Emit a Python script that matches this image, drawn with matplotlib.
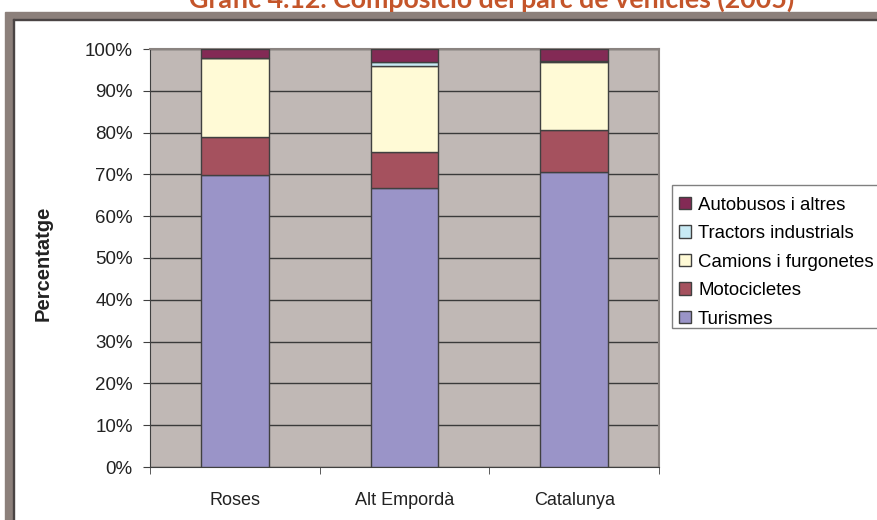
import numpy as np
import matplotlib.pyplot as plt
from matplotlib.patches import Rectangle

# dades (percentatges llegits del gràfic)
llocs = ['Roses', 'Alt Empordà', 'Catalunya']
turismes = [69.9, 66.7, 70.6]
motocicletes = [9.0, 8.7, 10.0]
camions = [18.9, 20.5, 16.2]
tractors = [0.1, 0.9, 0.4]
autobusos = [2.1, 3.2, 2.8]

series = [('Turismes', turismes, '#9A94C8'),
          ('Motocicletes', motocicletes, '#A5515E'),
          ('Camions i furgonetes', camions, '#FFFAD6'),
          ('Tractors industrials', tractors, '#C8EAF4'),
          ('Autobusos i altres', autobusos, '#832A55')]

W, H = 878, 520
plt.rcParams['font.family'] = ['Liberation Sans', 'DejaVu Sans']
fig = plt.figure(figsize=(W / 100, H / 100), dpi=100)

def fx(x):
    return x / W

def fy(y):
    return 1 - y / H

# marc gris
gris = '#8C807B'
fig.patches.append(Rectangle((fx(5), 0), fx(878) - fx(5), fy(12), transform=fig.transFigure, color=gris, zorder=-3))
fig.patches.append(Rectangle((fx(14), 0), fx(878) - fx(14), fy(20), transform=fig.transFigure, color='white', zorder=-2))
fig.patches.append(Rectangle((fx(13), 0), fx(1), fy(19), transform=fig.transFigure, color='#4A4444', zorder=-1))
fig.patches.append(Rectangle((fx(13), fy(20)), fx(878) - fx(13), 1 / H, transform=fig.transFigure, color='#4A4444', zorder=-1))

fig.text(fx(492), fy(8), 'Gràfic 4.12. Composició del parc de vehicles (2005)',
         ha='center', va='baseline', fontsize=19.3, fontweight='bold',
         color='#C4552A', family=['Lato', 'DejaVu Sans'])

ax = fig.add_axes([fx(150), fy(467), fx(659) - fx(150), fy(49) - fy(467)])
ax.set_zorder(2)
ax.set_facecolor('#C0B8B5')

x = np.arange(len(llocs))
bottom = np.zeros(len(llocs))
handles = []
for nom, vals, col in series:
    b = ax.bar(x, vals, 0.4, bottom=bottom, color=col, edgecolor='#404040', linewidth=1, label=nom, zorder=3)
    handles.append(b)
    bottom += np.array(vals)

ax.set_xlim(-0.5, 2.5)
ax.set_ylim(0, 100)
ax.set_yticks(np.arange(0, 101, 10))
ax.set_yticklabels([f'{v}%' for v in range(0, 101, 10)], fontsize=13.5, color='#222222')
ax.yaxis.grid(True, color='#3A3A3A', linewidth=1, zorder=1)
ax.set_axisbelow(True)

ax.set_xticks(x)
ax.set_xticklabels(llocs, fontsize=13, color='#222222')
ax.set_xticks([-0.5, 0.5, 1.5, 2.5], minor=True)
ax.tick_params(axis='x', which='major', length=0, pad=18)
ax.tick_params(axis='x', which='minor', length=5, color='#404040')
ax.tick_params(axis='y', length=5, color='#404040', pad=7.5)

for s in ['left', 'bottom']:
    ax.spines[s].set_color('#404040')
for s in ['top', 'right']:
    ax.spines[s].set_color('#8A8380')
    ax.spines[s].set_linewidth(1.5)

fig.text(fx(43), fy(263), 'Percentatge', rotation=90, ha='center', va='center',
         fontsize=14.5, fontweight='bold', color='#222222')

# caixa de la llegenda (tallada a la dreta com a l'original)
fig.patches.append(Rectangle((fx(672), fy(328)), fx(900) - fx(672), fy(185) - fy(328),
                             transform=fig.transFigure, facecolor='white', edgecolor='#808080',
                             linewidth=1, zorder=1))
leg = fig.legend(handles[::-1], [s[0] for s in series][::-1], loc='upper left',
                 bbox_to_anchor=(fx(672), fy(190)), fontsize=13.4, frameon=False,
                 handlelength=0.65, handleheight=0.65,
                 handletextpad=0.4, labelspacing=0.62, borderpad=0.35, borderaxespad=0)
leg.set_zorder(3)

fig.savefig('out.png', dpi=100)
